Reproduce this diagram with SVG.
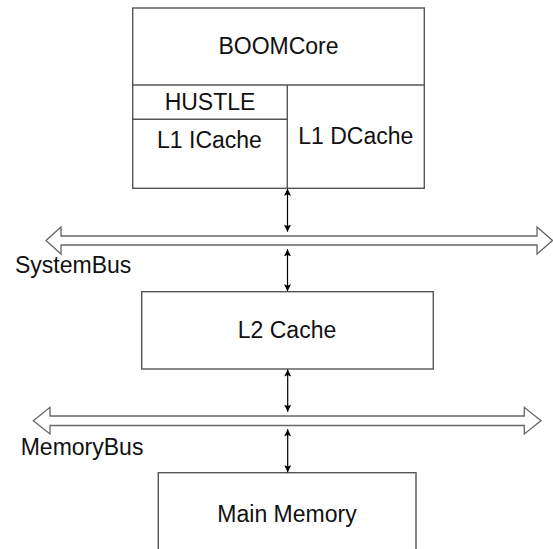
<svg xmlns="http://www.w3.org/2000/svg" width="553" height="549" viewBox="0 0 553 549">
  <defs>
    <style>
      .box { fill: #ffffff; stroke: #555555; stroke-width: 1.4; }
      .div { fill: none; stroke: #555555; stroke-width: 1.4; }
      .bus { fill: #ffffff; stroke: #666666; stroke-width: 1.3; stroke-linejoin: miter; }
      .lbl { font-family: "Liberation Sans", Arial, Helvetica, sans-serif; font-size: 23px; fill: #111111; }
      .mid { text-anchor: middle; }
      .conn { stroke: #000000; stroke-width: 1.2; fill: none; marker-start: url(#ah); marker-end: url(#ah); }
    </style>
    <marker id="ah" viewBox="0 0 10 10" refX="10" refY="5" markerWidth="8" markerHeight="7" markerUnits="userSpaceOnUse" orient="auto-start-reverse">
      <path d="M0,0 L10,5 L0,10 L2,5 Z" fill="#000000"/>
    </marker>
  </defs>
  <rect width="553" height="549" fill="#ffffff"/>

  <g id="boomcore">
    <rect class="box" x="132.7" y="8" width="291.6" height="180.3"/>
    <line class="div" x1="132.7" y1="85" x2="424.3" y2="85"/>
    <text class="lbl mid" x="278.5" y="54.3">BOOMCore</text>
  </g>
  <g id="hustle">
    <line class="div" x1="132.7" y1="119.3" x2="287.3" y2="119.3"/>
    <text class="lbl mid" x="210" y="110">HUSTLE</text>
  </g>
  <g id="l1icache">
    <text class="lbl mid" x="209.5" y="148.3">L1 ICache</text>
  </g>
  <g id="l1dcache">
    <line class="div" x1="287.3" y1="85" x2="287.3" y2="188.3"/>
    <text class="lbl mid" x="355.8" y="144.3">L1 DCache</text>
  </g>

  <g id="systembus">
    <polygon class="bus" points="46,240.5 61,227 61,236 537,236 537,227 552.5,240.5 537,254 537,245 61,245 61,254"/>
    <text class="lbl" x="15" y="273.3">SystemBus</text>
  </g>

  <g id="l2cache">
    <rect class="box" x="141.7" y="291.7" width="291.6" height="77.3"/>
    <text class="lbl mid" x="287" y="338.3">L2 Cache</text>
  </g>

  <g id="memorybus">
    <polygon class="bus" points="33.3,420.7 50,407.3 50,416 524.3,416 524.3,407.3 541,420.7 524.3,434 524.3,425.5 50,425.5 50,434"/>
    <text class="lbl" x="20.7" y="455">MemoryBus</text>
  </g>

  <g id="mainmemory">
    <rect class="box" x="158.3" y="472.7" width="257.7" height="90"/>
    <text class="lbl mid" x="287" y="521.7">Main Memory</text>
  </g>

  <g id="connectors">
    <line class="conn" x1="287.5" y1="188.8" x2="287.5" y2="231.7"/>
    <line class="conn" x1="287.5" y1="249.3" x2="287.5" y2="291.2"/>
    <line class="conn" x1="287.7" y1="369.5" x2="287.7" y2="411.7"/>
    <line class="conn" x1="287.7" y1="429.3" x2="287.7" y2="472.2"/>
  </g>
</svg>
